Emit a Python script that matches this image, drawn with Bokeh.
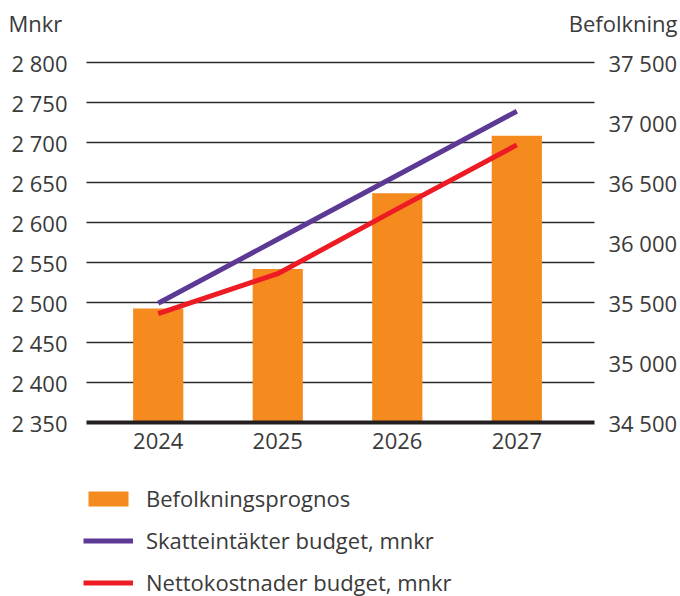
from bokeh.plotting import figure
from bokeh.models import Range1d, Legend, LegendItem, ColumnDataSource
from bokeh.core.properties import value
from bokeh.embed import file_html
from bokeh.resources import INLINE

# ---------------- data ----------------
years = ["2024", "2025", "2026", "2027"]
befolkning = [35450, 35780, 36410, 36890]          # right axis (bars)
skatteintakter = [2499, 2579, 2659, 2739]          # left axis (line)
nettokostnader = [2486, 2536, 2617, 2697]          # left axis (line)

left_ticks = [2350, 2400, 2450, 2500, 2550, 2600, 2650, 2700, 2750, 2800]
right_ticks = [34500, 35000, 35500, 36000, 36500, 37000, 37500]
left_title = "Mnkr"
right_title = "Befolkning"
series_names = ["Befolkningsprognos", "Skatteintäkter budget, mnkr",
                "Nettokostnader budget, mnkr"]

# ---------------- style ----------------
FONT = value("Open Sans")
FS = value("22px")
TXT = "#3a3a3a"
ORANGE = "#f58a1f"
PURPLE = "#5b3995"
RED = "#ed1c24"
GRID = "#2b2b2b"

W, H = 680, 596
PLOT_L, PLOT_R, PLOT_T, PLOT_B = 86, 594, 62, 422     # plot area in pixels


def fmt(v):
    return f"{v:,}".replace(",", " ")


# value ranges of the plot area, extended so that the frame covers the whole canvas
x_lo, x_hi = -0.6, 3.65
y_lo, y_hi = left_ticks[0], left_ticks[-1]
r_lo, r_hi = right_ticks[0], right_ticks[-1]
xs_per_px = (x_hi - x_lo) / (PLOT_R - PLOT_L)
ys_per_px = (y_hi - y_lo) / (PLOT_B - PLOT_T)
rs_per_px = (r_hi - r_lo) / (PLOT_B - PLOT_T)

p = figure(width=W, height=H, output_backend="svg", toolbar_location=None,
           x_range=Range1d(x_lo - PLOT_L * xs_per_px, x_hi + (W - PLOT_R) * xs_per_px),
           y_range=Range1d(y_lo - (H - PLOT_B) * ys_per_px, y_hi + PLOT_T * ys_per_px),
           x_axis_type=None, y_axis_type=None, min_border=0, outline_line_color=None)
p.extra_y_ranges = {"bef": Range1d(r_lo - (H - PLOT_B) * rs_per_px, r_hi + PLOT_T * rs_per_px)}
p.grid.visible = False

xs = list(range(len(years)))
src = ColumnDataSource(dict(x=xs, bef=befolkning, skatt=skatteintakter,
                            netto=nettokostnader, year=years))

# horizontal grid lines (left-axis ticks)
gt = left_ticks[1:]
p.segment(x0=[x_lo] * len(gt), x1=[x_hi] * len(gt), y0=gt, y1=gt,
          line_color=GRID, line_width=1.5)

bars = p.vbar(x="x", top="bef", bottom=r_lo, width=0.42, source=src,
              y_range_name="bef", fill_color=ORANGE, line_color=None)

# baseline (x axis line)
p.segment(x0=[x_lo], x1=[x_hi], y0=[y_lo], y1=[y_lo], line_color="#231f20", line_width=4)

l1 = p.line(x="x", y="skatt", source=src, line_color=PURPLE, line_width=5, line_cap="butt")
l2 = p.line(x="x", y="netto", source=src, line_color=RED, line_width=5, line_cap="butt")

# solid legend swatch for the bars (drawn only in the legend)
swatch = p.line(x=[], y=[], line_color=ORANGE, line_width=19, line_cap="butt")

# left axis labels
p.text(x=[x_lo] * len(left_ticks), y=left_ticks, text=[fmt(t) for t in left_ticks],
       x_offset=-19, text_align="right", text_baseline="middle",
       text_font=FONT, text_font_size=FS, text_color=TXT)
# right axis labels
p.text(x=[x_hi] * len(right_ticks), y=right_ticks, text=[fmt(t) for t in right_ticks],
       x_offset=14, text_align="left", text_baseline="middle", y_range_name="bef",
       text_font=FONT, text_font_size=FS, text_color=TXT)
# x axis labels
p.text(x="x", y=y_lo, text="year", source=src, y_offset=18,
       text_align="center", text_baseline="middle",
       text_font=FONT, text_font_size=FS, text_color=TXT)
# axis titles
p.text(x=[x_lo], y=[y_hi + 40 * ys_per_px], text=[left_title], x_offset=-78,
       text_align="left", text_baseline="middle",
       text_font=FONT, text_font_size=FS, text_color=TXT)
p.text(x=[x_hi], y=[y_hi + 40 * ys_per_px], text=[right_title], x_offset=83,
       text_align="right", text_baseline="middle",
       text_font=FONT, text_font_size=FS, text_color=TXT)

legend = Legend(items=[LegendItem(label=series_names[0], renderers=[swatch, bars]),
                       LegendItem(label=series_names[1], renderers=[l1]),
                       LegendItem(label=series_names[2], renderers=[l2])],
                location=(83, -1), orientation="vertical",
                glyph_width=50, glyph_height=19, label_standoff=13, spacing=12,
                padding=0, margin=0, border_line_color=None, background_fill_alpha=0,
                label_text_font="Open Sans", label_text_font_size="22px",
                label_text_color=TXT)
p.add_layout(legend, "center")

open("out.html", "w").write(file_html(p, INLINE))
